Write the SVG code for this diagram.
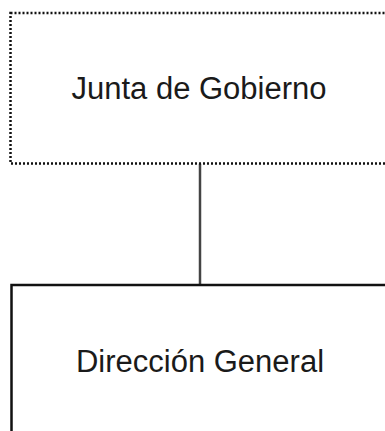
<svg xmlns="http://www.w3.org/2000/svg" width="385" height="431" viewBox="0 0 385 431">
<style>
.lbl{font-family:"Liberation Sans",Arial,sans-serif;font-size:31px;fill:#1a1a1a;text-anchor:middle}
.dotted{fill:#fff;stroke:#111;stroke-width:2.5;stroke-dasharray:2 2}
.solid{fill:#fff;stroke:#111;stroke-width:2.5}
.conn{stroke:#444;stroke-width:2.5;fill:none}
</style>
<rect width="385" height="431" fill="#fff"/>
<g id="connectors">
<line class="conn" x1="200" y1="163.5" x2="200" y2="285"/>
</g>
<g id="junta">
<rect class="dotted" x="10.5" y="13" width="380" height="150.5"/>
<text class="lbl" x="199" y="98.5">Junta de Gobierno</text>
</g>
<g id="direccion">
<rect class="solid" x="11.5" y="285" width="380" height="152"/>
<text class="lbl" x="200" y="371.5">Dirección General</text>
</g>
</svg>
